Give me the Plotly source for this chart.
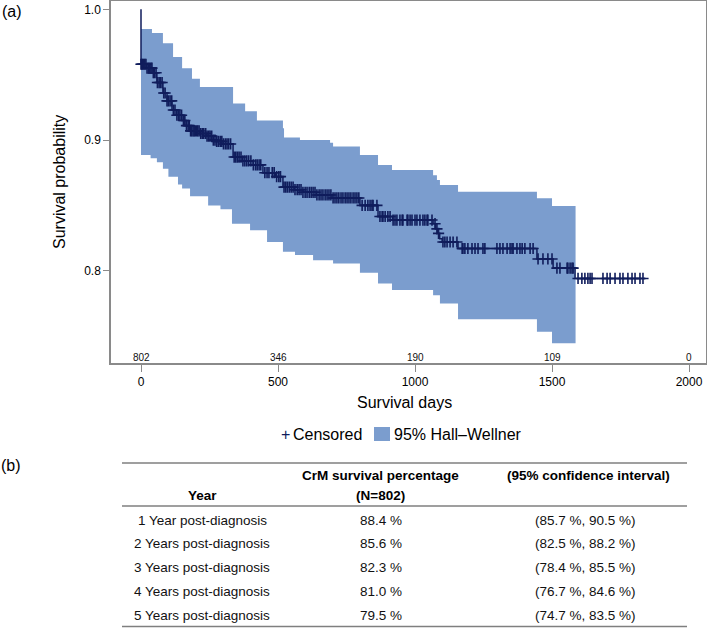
import plotly.graph_objects as go

# ---------------- data ----------------
km_days = [0, 0, 20, 44, 58, 80, 95, 113, 130, 149, 165, 179, 215, 240, 263, 276, 300, 336, 370, 409,
           445, 490, 518, 560, 591, 640, 697, 799, 865, 918, 1066, 1075, 1082, 1090, 1099, 1157, 1445,
           1504, 1584]
km_surv = [1.0, 0.958, 0.955, 0.9515, 0.944, 0.936, 0.930, 0.923, 0.919, 0.915, 0.911, 0.907, 0.905,
           0.903, 0.900, 0.899, 0.897, 0.887, 0.884, 0.881, 0.875, 0.872, 0.864, 0.862, 0.860, 0.858,
           0.8557, 0.850, 0.8415, 0.8388, 0.836, 0.832, 0.8286, 0.8245, 0.822, 0.817, 0.809, 0.802, 0.7941]
last_followup = 1839

censored_days = [0, 3, 6, 10, 14, 18, 22, 27, 31, 36, 40, 45, 49, 55, 60, 66, 71, 77, 83, 88, 95, 100,
                 106, 112, 118, 124, 131, 137, 142, 148, 155, 160, 166, 172, 176, 181, 185, 190, 194,
                 198, 203, 207, 212, 218, 224, 229, 236, 241, 247, 252, 258, 264, 270, 276, 282, 289,
                 295, 301, 308, 314, 320, 327, 340, 346, 352, 358, 365, 372, 379, 386, 393, 401, 410,
                 418, 424, 431, 437, 452, 460, 467, 479, 486, 495, 503, 509, 522, 528, 534, 541, 548,
                 555, 562, 570, 577, 584, 591, 599, 606, 614, 621, 628, 635, 642, 650, 657, 664, 672,
                 679, 686, 693, 701, 708, 715, 722, 730, 737, 745, 752, 759, 766, 774, 781, 788, 795,
                 807, 818, 828, 836, 843, 847, 861, 872, 880, 883, 891, 901, 909, 920, 927, 934, 945,
                 953, 956, 971, 974, 982, 989, 1000, 1007, 1018, 1029, 1036, 1044, 1047, 1062, 1073,
                 1080, 1086, 1102, 1109, 1117, 1128, 1139, 1153, 1172, 1175, 1182, 1193, 1208, 1219,
                 1230, 1248, 1255, 1299, 1310, 1321, 1336, 1347, 1354, 1358, 1372, 1383, 1391, 1401,
                 1420, 1431, 1449, 1467, 1485, 1500, 1518, 1529, 1555, 1558, 1566, 1573, 1577, 1595,
                 1609, 1620, 1631, 1639, 1646, 1686, 1701, 1712, 1730, 1748, 1759, 1777, 1792, 1803,
                 1821, 1832]

upper_days = [0, 40, 80, 117, 150, 186, 215, 336, 380, 423, 518, 522, 580, 690, 701, 799, 865, 916,
              1066, 1080, 1091, 1157, 1445, 1500]
upper_vals = [0.985, 0.982, 0.974, 0.9635, 0.955, 0.947, 0.9405, 0.928, 0.922, 0.915, 0.909, 0.902,
              0.900, 0.898, 0.895, 0.8885, 0.881, 0.877, 0.873, 0.8694, 0.8656, 0.8604, 0.8555, 0.8495]
lower_days = [0, 35, 58, 80, 100, 135, 150, 179, 245, 290, 332, 398, 460, 518, 562, 628, 701, 799,
              865, 916, 1066, 1091, 1157, 1445, 1500]
lower_vals = [0.8885, 0.886, 0.883, 0.878, 0.872, 0.866, 0.863, 0.857, 0.850, 0.847, 0.836, 0.831,
              0.822, 0.8145, 0.812, 0.808, 0.8056, 0.7985, 0.7903, 0.7852, 0.7813, 0.775, 0.7628,
              0.7533, 0.7445]
band_end = 1586

at_risk_days = [0, 500, 1000, 1500, 2000]
at_risk_counts = ["802", "346", "190", "109", "0"]

x_ticks = [0, 500, 1000, 1500, 2000]
y_ticks = [0.8, 0.9, 1.0]
y_tick_labels = ["0.8", "0.9", "1.0"]

table_header = ["Year", "CrM survival percentage", "(N=802)", "(95% confidence interval)"]
table_years = ["1 Year post-diagnosis", "2 Years post-diagnosis", "3 Years post-diagnosis",
               "4 Years post-diagnosis", "5 Years post-diagnosis"]
table_surv = ["88.4 %", "85.6 %", "82.3 %", "81.0 %", "79.5 %"]
table_ci = ["(85.7 %, 90.5 %)", "(82.5 %, 88.2 %)", "(78.4 %, 85.5 %)", "(76.7 %, 84.6 %)",
            "(74.7 %, 83.5 %)"]

# ---------------- styling ----------------
W, H = 707, 628
FONT = "Liberation Sans, Arial, sans-serif"
BAND = "#7b9dce"
NAVY = "#101d5c"
AXIS = "#8a8a8a"


def px(x):
    return x / W


def py(y):
    return 1 - y / H


def km_at(t):
    val = km_surv[0]
    for d, s in zip(km_days, km_surv):
        if d <= t:
            val = s
    return val


def note(x, y, text, size=16, color="#000", xanchor="center", **kw):
    return dict(x=px(x), y=py(y), xref="paper", yref="paper", text=text, showarrow=False,
                xanchor=xanchor, yanchor="middle", font=dict(family=FONT, size=size, color=color), **kw)


fig = go.Figure()

# confidence band
fig.add_trace(go.Scatter(x=upper_days + [band_end], y=upper_vals + [upper_vals[-1]],
                         mode="lines", line=dict(width=0, shape="hv", color=BAND),
                         showlegend=False, hoverinfo="skip"))
fig.add_trace(go.Scatter(x=lower_days + [band_end], y=lower_vals + [lower_vals[-1]],
                         mode="lines", line=dict(width=0, shape="hv", color=BAND),
                         fill="tonexty", fillcolor=BAND, showlegend=False, hoverinfo="skip"))
# KM curve
fig.add_trace(go.Scatter(x=km_days + [last_followup], y=km_surv + [km_surv[-1]],
                         mode="lines", line=dict(width=1.5, shape="hv", color=NAVY),
                         showlegend=False))
# censored marks
fig.add_trace(go.Scatter(x=censored_days, y=[km_at(c) for c in censored_days], mode="markers",
                         marker=dict(symbol="cross-thin", size=8, line=dict(width=1.6, color=NAVY)),
                         showlegend=False))

annotations = []
# at-risk numbers
for d, n in zip(at_risk_days, at_risk_counts):
    annotations.append(dict(x=d, y=py(357), xref="x", yref="paper", text=n, showarrow=False,
                            xanchor="center", yanchor="middle",
                            font=dict(family=FONT, size=10, color="#111")))

# axis titles
annotations.append(note(404, 402, "Survival days"))
annotations.append(note(59, 182, "Survival probability", textangle=-90))
# panel labels
annotations.append(note(12, 12, "(a)"))
annotations.append(note(11, 466, "(b)"))
# legend
annotations.append(note(285, 434, "+", color=NAVY))
annotations.append(note(291, 434, "Censored", xanchor="left"))
annotations.append(note(392, 434, "95% Hall\u2013Wellner", xanchor="left"))

# table
col_x = [202, 381, 585]
annotations.append(note(col_x[0], 495, "<b>%s</b>" % table_header[0], size=13.5))
annotations.append(note(col_x[1], 475, "<b>%s</b>" % table_header[1], size=13.5))
annotations.append(note(col_x[1], 495, "<b>%s</b>" % table_header[2], size=13.5))
annotations.append(note(588, 475, "<b>%s</b>" % table_header[3], size=13.5))
row_y = [520, 543.5, 567, 591, 615]
for yy, a, b, c in zip(row_y, table_years, table_surv, table_ci):
    for xx, t in zip(col_x, [a, b, c]):
        annotations.append(note(xx, yy, t, size=13.5, color="#111"))

shapes = [
    dict(type="rect", xref="paper", yref="paper", x0=px(374), x1=px(390), y0=py(441), y1=py(427),
         fillcolor=BAND, line=dict(width=0)),
    dict(type="line", xref="paper", yref="paper", x0=px(122), x1=px(687), y0=py(463), y1=py(463),
         line=dict(color="#7f7f7f", width=1.5)),
    dict(type="line", xref="paper", yref="paper", x0=px(122), x1=px(687), y0=py(506), y1=py(506),
         line=dict(color="#7f7f7f", width=1.5)),
    dict(type="line", xref="paper", yref="paper", x0=px(122), x1=px(687), y0=py(626.5), y1=py(626.5),
         line=dict(color="#7f7f7f", width=1.5)),
]

fig.update_layout(
    width=W, height=H, margin=dict(l=0, r=0, t=0, b=0),
    plot_bgcolor="white", paper_bgcolor="white", showlegend=False,
    annotations=annotations, shapes=shapes,
    xaxis=dict(domain=[px(111), px(706)], range=[-109.5, 2062], tickvals=x_ticks,
               ticks="outside", ticklen=7, tickcolor=AXIS, showline=True, linecolor=AXIS,
               linewidth=1.5, mirror=True, showgrid=False, zeroline=False,
               tickfont=dict(family=FONT, size=12, color="#000")),
    yaxis=dict(domain=[py(363), py(1)], range=[0.7294, 1.0064], tickvals=y_ticks,
               ticktext=y_tick_labels, ticks="outside", ticklen=6, tickcolor=AXIS, showline=True,
               linecolor=AXIS, linewidth=1.5, mirror=True, showgrid=False, zeroline=False,
               tickfont=dict(family=FONT, size=12, color="#000")),
)

fig.write_html("out.html", config={"displayModeBar": False},
               post_script="document.body.style.margin='0';document.body.style.overflow='hidden';")
